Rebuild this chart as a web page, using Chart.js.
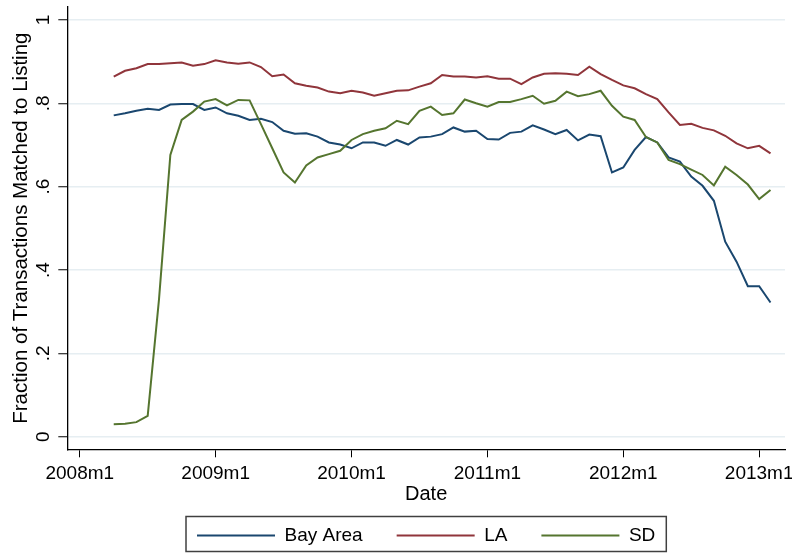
<!DOCTYPE html>
<html>
<head>
<meta charset="utf-8">
<script src="https://cdn.jsdelivr.net/npm/chart.js@4.4.1/dist/chart.umd.min.js"></script>
<style>
  body { margin: 0; background: #fff; }
  #wrap { width: 792px; height: 555px; }
</style>
</head>
<body>
<div id="wrap"><canvas id="lineChart" width="792" height="555"></canvas></div>
<script>
// monthly observations, 2008m4 .. 2013m2
const months = [
  "2008m4", "2008m5", "2008m6", "2008m7", "2008m8", "2008m9", "2008m10", "2008m11", "2008m12",
  "2009m1", "2009m2", "2009m3", "2009m4", "2009m5", "2009m6", "2009m7", "2009m8", "2009m9", "2009m10", "2009m11", "2009m12",
  "2010m1", "2010m2", "2010m3", "2010m4", "2010m5", "2010m6", "2010m7", "2010m8", "2010m9", "2010m10", "2010m11", "2010m12",
  "2011m1", "2011m2", "2011m3", "2011m4", "2011m5", "2011m6", "2011m7", "2011m8", "2011m9", "2011m10", "2011m11", "2011m12",
  "2012m1", "2012m2", "2012m3", "2012m4", "2012m5", "2012m6", "2012m7", "2012m8", "2012m9", "2012m10", "2012m11", "2012m12",
  "2013m1", "2013m2"
];

const bayArea = [
  0.771, 0.776, 0.782, 0.787, 0.784, 0.797, 0.798, 0.798, 0.784, 0.790,
  0.776, 0.770, 0.760, 0.763, 0.755, 0.734, 0.727, 0.728, 0.720, 0.706,
  0.701, 0.692, 0.706, 0.706, 0.698, 0.712, 0.701, 0.718, 0.720, 0.726,
  0.742, 0.732, 0.734, 0.714, 0.713, 0.729, 0.732, 0.747, 0.737, 0.726,
  0.736, 0.711, 0.725, 0.721, 0.634, 0.646, 0.688, 0.719, 0.706, 0.670,
  0.660, 0.624, 0.602, 0.566, 0.468, 0.420, 0.361, 0.361, 0.322
];

const la = [
  0.864, 0.878, 0.884, 0.894, 0.894, 0.896, 0.898, 0.890, 0.894, 0.903,
  0.898, 0.895, 0.898, 0.887, 0.865, 0.869, 0.848, 0.842, 0.838, 0.828,
  0.824, 0.830, 0.826, 0.818, 0.824, 0.830, 0.831, 0.840, 0.848, 0.868,
  0.864, 0.864, 0.862, 0.865, 0.859, 0.859, 0.846, 0.862, 0.871, 0.872,
  0.871, 0.868, 0.888, 0.870, 0.856, 0.843, 0.836, 0.822, 0.810, 0.778,
  0.748, 0.751, 0.741, 0.735, 0.722, 0.704, 0.692, 0.698, 0.680
];

const sd = [
  0.030, 0.031, 0.035, 0.050, 0.330, 0.676, 0.760, 0.780, 0.804, 0.810,
  0.795, 0.808, 0.807, 0.750, 0.692, 0.634, 0.610, 0.651, 0.670, 0.678,
  0.686, 0.712, 0.726, 0.734, 0.740, 0.758, 0.750, 0.782, 0.792, 0.772,
  0.776, 0.809, 0.800, 0.792, 0.803, 0.803, 0.810, 0.818, 0.799, 0.806,
  0.828, 0.817, 0.822, 0.830, 0.794, 0.768, 0.760, 0.719, 0.706, 0.664,
  0.654, 0.641, 0.628, 0.603, 0.648, 0.628, 0.605, 0.570, 0.592
];

const seriesNames = ["Bay Area", "LA", "SD"];
const seriesColors = ["#1a476f", "#90353b", "#55752f"];

const xTickLabels = ["2008m1", "2009m1", "2010m1", "2011m1", "2012m1", "2013m1"];
const yTickValues = [0, 0.2, 0.4, 0.6, 0.8, 1];
const yTickLabels = ["0", ".2", ".4", ".6", ".8", "1"];

document.addEventListener("DOMContentLoaded", () => {
    const FONT = '"Liberation Sans", Arial, Helvetica, sans-serif';

    // months since 2008m1
    const toIndex = s => {
        const [y, m] = s.split("m").map(Number);
        return (y - 2008) * 12 + (m - 1);
    };
    const xs = months.map(toIndex);
    const xTickValues = xTickLabels.map(toIndex);
    const points = vals => vals.map((v, i) => ({ x: xs[i], y: v }));

    // Stata style outline round the legend
    const legendFrame = {
        id: "legendFrame",
        afterDraw(chart) {
            const boxes = chart.legend && chart.legend.legendHitBoxes;
            if (!boxes || !boxes.length) return;
            const first = boxes[0], last = boxes[boxes.length - 1];
            const ctx = chart.ctx;
            ctx.save();
            ctx.strokeStyle = "#404040";
            ctx.lineWidth = 1.5;
            ctx.strokeRect(first.left - 11, first.top - 9.5, last.left + last.width - first.left + 22, first.height + 16);
            ctx.restore();
        }
    };

    const ctx = document.getElementById("lineChart").getContext("2d");
    new Chart(ctx, {
        type: "line",
        data: {
            datasets: [bayArea, la, sd].map((vals, i) => ({
                label: seriesNames[i],
                data: points(vals),
                borderColor: seriesColors[i],
                backgroundColor: seriesColors[i],
                borderWidth: 2,
                pointRadius: 0,
                tension: 0,
                fill: false,
                order: 3 - i
            }))
        },
        options: {
            responsive: false,
            animation: false,
            layout: { padding: { left: 0, right: 7, top: 7, bottom: 0 } },
            scales: {
                x: {
                    type: "linear",
                    min: -1.1,
                    max: 62.28,
                    afterBuildTicks: scale => {
                        scale.ticks = xTickValues.map(v => ({ value: v }));
                    },
                    afterFit: scale => {
                        scale.paddingLeft = 0;
                        scale.paddingRight = 0;
                    },
                    ticks: {
                        autoSkip: false,
                        maxRotation: 0,
                        padding: 7,
                        color: "#000",
                        font: { family: FONT, size: 19, lineHeight: 1 },
                        callback: (value, index) => xTickLabels[index]
                    },
                    grid: {
                        drawOnChartArea: false,
                        tickLength: 8,
                        tickColor: "#000",
                        tickWidth: 1
                    },
                    border: { color: "#000", width: 1.3 },
                    title: {
                        display: true,
                        text: "Date",
                        color: "#000",
                        font: { family: FONT, size: 20, lineHeight: 1 },
                        padding: { top: -6.1, bottom: -12.2 }
                    }
                },
                y: {
                    min: -0.0302,
                    max: 1.031,
                    afterBuildTicks: scale => {
                        scale.ticks = yTickValues.map(v => ({ value: v }));
                    },
                    afterFit: scale => {
                        scale.paddingTop = 0;
                        scale.paddingBottom = 0;
                    },
                    ticks: {
                        minRotation: 90,
                        maxRotation: 90,
                        crossAlign: "center",
                        padding: 7,
                        color: "#000",
                        font: { family: FONT, size: 19, lineHeight: 1 },
                        callback: (value, index) => yTickLabels[index]
                    },
                    grid: {
                        color: "#e6eef2",
                        lineWidth: 1.5,
                        tickLength: 9,
                        tickColor: "#000",
                        tickWidth: 1
                    },
                    border: { color: "#000", width: 1.3 },
                    title: {
                        display: true,
                        text: "Fraction of Transactions Matched to Listing",
                        color: "#000",
                        font: { family: FONT, size: 20.5, lineHeight: 1 },
                        padding: { top: 11.25, bottom: -6.45 }
                    }
                }
            },
            plugins: {
                legend: {
                    position: "bottom",
                    fullSize: false,
                    labels: {
                        usePointStyle: true,
                        pointStyle: "line",
                        pointStyleWidth: 78,
                        padding: 34,
                        color: "#000",
                        font: { family: FONT, size: 19 },
                        sort: (a, b) => a.datasetIndex - b.datasetIndex
                    }
                },
                tooltip: { enabled: false }
            }
        },
        plugins: [legendFrame]
    });
});
</script>
</body>
</html>
